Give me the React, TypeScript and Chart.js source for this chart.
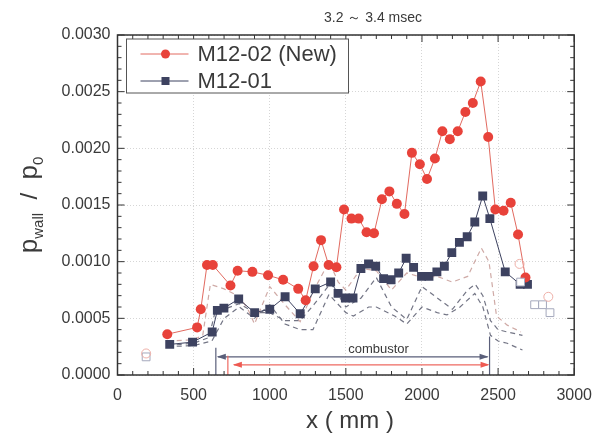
import React, { useEffect, useRef } from "react";
import { Chart, registerables } from "chart.js";

Chart.register(...registerables);

const FONT = "'Liberation Sans', Arial, sans-serif";

// M12-02 (New)
const newX = [327, 523, 547, 588, 626, 742, 789, 886, 989, 1088, 1187, 1236, 1288, 1337, 1387, 1438, 1488, 1537, 1584, 1636, 1685, 1737, 1786, 1835, 1885, 1934, 1986, 2033, 2085, 2134, 2183, 2235, 2285, 2334, 2386, 2435, 2482, 2536, 2583, 2631, 2680];
const newY = [0.00036, 0.00042, 0.00058, 0.00097, 0.00097, 0.00079, 0.00092, 0.00091, 0.00088, 0.00084, 0.00076, 0.00066, 0.00096, 0.00119, 0.00097, 0.00095, 0.00146, 0.00138, 0.00138, 0.00126, 0.00125, 0.00155, 0.00162, 0.00151, 0.00142, 0.00196, 0.00186, 0.00173, 0.00191, 0.00215, 0.00208, 0.00215, 0.00232, 0.0024, 0.00259, 0.0021, 0.00146, 0.00145, 0.00152, 0.00124, 0.00086];

// M12-01
const oldX = [343, 493, 622, 656, 699, 796, 901, 1000, 1101, 1200, 1299, 1400, 1449, 1497, 1547, 1599, 1649, 1696, 1748, 1797, 1847, 1896, 1945, 1997, 2046, 2098, 2147, 2196, 2246, 2297, 2347, 2399, 2446, 2547, 2645, 2693];
const oldY = [0.00027, 0.00029, 0.00038, 0.00057, 0.00059, 0.00067, 0.00055, 0.00058, 0.00069, 0.00054, 0.00076, 0.00082, 0.00072, 0.00068, 0.00068, 0.00094, 0.00098, 0.00096, 0.00085, 0.00084, 0.0009, 0.00103, 0.00095, 0.00087, 0.00087, 0.00091, 0.00096, 0.00108, 0.00117, 0.00122, 0.00135, 0.00158, 0.00138, 0.00091, 0.0008, 0.0008];

// dashed reference curves
const refAX = [330, 500, 560, 610, 700, 790, 850, 900, 1000, 1100, 1200, 1290, 1390, 1450, 1500, 1600, 1700, 1800, 1900, 2000, 2100, 2200, 2300, 2390, 2440, 2490, 2560, 2650];
const refAY = [0.0003, 0.00031, 0.00035, 0.0008, 0.00076, 0.0007, 0.0006, 0.00045, 0.00078, 0.00062, 0.00047, 0.00075, 0.001, 0.00082, 0.00075, 0.00094, 0.00092, 0.00075, 0.0009, 0.00086, 0.00087, 0.00082, 0.00087, 0.00112, 0.001, 0.00052, 0.00044, 0.00038];
const refBX = [330, 500, 600, 640, 700, 800, 900, 1000, 1100, 1200, 1290, 1400, 1500, 1600, 1700, 1800, 1900, 2000, 2100, 2200, 2300, 2350, 2400, 2450, 2500, 2560, 2660];
const refBY = [0.00026, 0.00028, 0.00033, 0.00055, 0.00058, 0.00063, 0.00055, 0.00055, 0.00048, 0.00048, 0.00062, 0.00081, 0.0006, 0.00068, 0.00086, 0.0006, 0.00049, 0.00078, 0.00068, 0.00058, 0.00075, 0.0008, 0.0007, 0.00048, 0.0004, 0.00038, 0.00035];
const refCX = [330, 500, 620, 700, 800, 900, 1000, 1100, 1200, 1284, 1389, 1500, 1550, 1650, 1700, 1821, 1900, 2000, 2100, 2164, 2250, 2347, 2400, 2450, 2500, 2560, 2660];
const refCY = [0.00025, 0.00026, 0.0003, 0.0005, 0.0006, 0.0005, 0.00062, 0.00045, 0.0004, 0.0004, 0.00071, 0.00055, 0.00052, 0.0006, 0.0006, 0.00052, 0.00045, 0.0006, 0.00055, 0.00053, 0.0006, 0.00072, 0.0006, 0.00035, 0.0003, 0.00028, 0.00022];

// open (other-run) markers
const openCircX = [188, 2641, 2830];
const openCircY = [0.00019, 0.00098, 0.00069];
const openSqX = [188, 2648, 2740, 2792, 2841];
const openSqY = [0.00016, 0.00082, 0.00062, 0.00062, 0.00055];

const xTickLabels = ["0", "500", "1000", "1500", "2000", "2500", "3000"];
const yTickLabels = ["0.0000", "0.0005", "0.0010", "0.0015", "0.0020", "0.0025", "0.0030"];

const legendLabels = ["M12-02 (New)", "M12-01"];
const titleText = "3.2 \uFF5E 3.4 msec";
const annotationText = "combustor";
const combustorBlue = [646, 2444];
const combustorRed = [725, 2444];

const RED = "#e8423a";
const RED_LINE = "#e26a60";
const BLUE = "#3d4260";
const TEXT = "#3a3a3a";

const pts = (xs: number[], ys: number[]) => xs.map((x, i) => ({ x, y: ys[i] }));

function arrowHead(ctx: CanvasRenderingContext2D, x: number, y: number, dir: number, color: string) {
  ctx.fillStyle = color;
  ctx.beginPath();
  ctx.moveTo(x, y);
  ctx.lineTo(x - dir * 9, y - 3);
  ctx.lineTo(x - dir * 9, y + 3);
  ctx.closePath();
  ctx.fill();
}

const decor = {
  id: "decor",
  beforeDraw(chart: any) {
    const ctx = chart.ctx;
    ctx.save();
    ctx.fillStyle = "#fff";
    ctx.fillRect(0, 0, chart.width, chart.height);
    ctx.restore();
  },
  afterDatasetsDraw(chart: any) {
    const ctx: CanvasRenderingContext2D = chart.ctx;
    const { left, right, top, bottom } = chart.chartArea;
    const xs = chart.scales.x;
    const ys = chart.scales.y;
    ctx.save();

    // combustor annotation
    const bx0 = xs.getPixelForValue(combustorBlue[0]);
    const bx1 = xs.getPixelForValue(combustorBlue[1]);
    const rx0 = xs.getPixelForValue(combustorRed[0]);
    const rx1 = xs.getPixelForValue(combustorRed[1]);
    const yb = ys.getPixelForValue(0.00016);
    const yr = ys.getPixelForValue(0.00009);
    ctx.lineWidth = 1.2;
    ctx.strokeStyle = "#5a5f7a";
    ctx.beginPath();
    ctx.moveTo(bx0, ys.getPixelForValue(0.00024));
    ctx.lineTo(bx0, bottom);
    ctx.moveTo(bx1, ys.getPixelForValue(0.00034));
    ctx.lineTo(bx1, bottom);
    ctx.moveTo(bx0 + 2, yb);
    ctx.lineTo(bx1 - 2, yb);
    ctx.stroke();
    arrowHead(ctx, bx0 + 1, yb, -1, "#5a5f7a");
    arrowHead(ctx, bx1 - 1, yb, 1, "#5a5f7a");
    ctx.strokeStyle = "#ee6a62";
    ctx.beginPath();
    ctx.moveTo(rx0, ys.getPixelForValue(0.00017));
    ctx.lineTo(rx0, bottom);
    ctx.moveTo(rx0 + 6, yr);
    ctx.lineTo(rx1 - 2, yr);
    ctx.stroke();
    arrowHead(ctx, rx0 + 5, yr, -1, "#ee5a52");
    arrowHead(ctx, rx1, yr, 1, "#ee5a52");
    ctx.fillStyle = TEXT;
    ctx.font = `13px ${FONT}`;
    ctx.textAlign = "center";
    ctx.textBaseline = "middle";
    ctx.fillText(annotationText, xs.getPixelForValue(1715), ys.getPixelForValue(0.00023));

    // frame
    ctx.strokeStyle = "#333";
    ctx.lineWidth = 1.5;
    ctx.strokeRect(left, top, right - left, bottom - top);

    // inward ticks, all sides
    ctx.lineWidth = 1;
    ctx.beginPath();
    for (let v = 0; v <= 3000; v += 100) {
      const p = xs.getPixelForValue(v);
      const len = v % 500 === 0 ? 7 : 4;
      ctx.moveTo(p, bottom);
      ctx.lineTo(p, bottom - len);
      ctx.moveTo(p, top);
      ctx.lineTo(p, top + len);
    }
    for (let i = 0; i <= 30; i++) {
      const p = ys.getPixelForValue(i * 0.0001);
      const len = i % 5 === 0 ? 7 : 4;
      ctx.moveTo(left, p);
      ctx.lineTo(left + len, p);
      ctx.moveTo(right, p);
      ctx.lineTo(right - len, p);
    }
    ctx.stroke();

    // legend
    const lx = left + 9, ly = top + 4, lw = 222, lh = 54;
    ctx.fillStyle = "#fff";
    ctx.fillRect(lx, ly, lw, lh);
    ctx.strokeStyle = "#555";
    ctx.lineWidth = 1;
    ctx.strokeRect(lx, ly, lw, lh);
    const rows = [ly + 15, ly + 42];
    ctx.lineWidth = 1;
    ctx.strokeStyle = RED_LINE;
    ctx.beginPath();
    ctx.moveTo(lx + 14, rows[0]);
    ctx.lineTo(lx + 62, rows[0]);
    ctx.stroke();
    ctx.fillStyle = RED;
    ctx.beginPath();
    ctx.arc(lx + 39, rows[0], 4.5, 0, Math.PI * 2);
    ctx.fill();
    ctx.strokeStyle = BLUE;
    ctx.beginPath();
    ctx.moveTo(lx + 14, rows[1]);
    ctx.lineTo(lx + 62, rows[1]);
    ctx.stroke();
    ctx.fillStyle = BLUE;
    ctx.fillRect(lx + 35, rows[1] - 4, 8, 8);
    ctx.fillStyle = TEXT;
    ctx.font = `22px ${FONT}`;
    ctx.textAlign = "left";
    ctx.textBaseline = "middle";
    ctx.fillText(legendLabels[0], lx + 71, rows[0] + 1);
    ctx.fillText(legendLabels[1], lx + 71, rows[1] + 1);

    // title
    ctx.font = `14px ${FONT}`;
    ctx.textAlign = "center";
    ctx.textBaseline = "middle";
    ctx.fillStyle = TEXT;
    ctx.fillText(titleText, 373, 18);

    // x axis title
    ctx.font = `24px ${FONT}`;
    ctx.fillText("x ( mm )", 350, 421);

    // y axis title with subscripts
    ctx.translate(33, 205);
    ctx.rotate(-Math.PI / 2);
    const parts: [string, number, number][] = [
      ["p", 26, 0],
      ["wall", 15, 6],
      ["  /  ", 24, 0],
      ["p", 26, 0],
      ["0", 15, 6],
    ];
    let total = 0;
    for (const [t, s] of parts) {
      ctx.font = `${s}px ${FONT}`;
      total += ctx.measureText(t).width;
    }
    let cx = -total / 2;
    ctx.textAlign = "left";
    ctx.textBaseline = "alphabetic";
    for (const [t, s, dy] of parts) {
      ctx.font = `${s}px ${FONT}`;
      ctx.fillText(t, cx, 4 + dy);
      cx += ctx.measureText(t).width;
    }
    ctx.restore();
  },
};

export default function App() {
  const ref = useRef<HTMLCanvasElement | null>(null);
  useEffect(() => {
    document.body.style.margin = "0";
    const canvas = ref.current;
    if (!canvas) return;
    const dashed = (xs: number[], ys: number[], color: string) => ({
      data: pts(xs, ys),
      showLine: true,
      borderColor: color,
      borderWidth: 1.2,
      borderDash: [5, 4],
      pointRadius: 0,
      order: 5,
    });
    const chart = new Chart(canvas, {
      type: "scatter",
      data: {
        datasets: [
          dashed(refAX, refAY, "#cfaaa6"),
          dashed(refBX, refBY, "#737585"),
          dashed(refCX, refCY, "#737585"),
          {
            data: pts(oldX, oldY),
            showLine: true,
            borderColor: BLUE,
            borderWidth: 1,
            pointStyle: "rect",
            pointRadius: 6.3,
            pointBackgroundColor: BLUE,
            pointBorderColor: BLUE,
            pointBorderWidth: 0,
            order: 3,
          },
          {
            data: pts(newX, newY),
            showLine: true,
            borderColor: RED_LINE,
            borderWidth: 1,
            pointStyle: "circle",
            pointRadius: 5,
            pointBackgroundColor: RED,
            pointBorderColor: RED,
            pointBorderWidth: 0,
            order: 2,
          },
          {
            data: pts(openSqX, openSqY),
            showLine: false,
            pointStyle: "rect",
            pointRadius: 5.5,
            pointBackgroundColor: "#fff",
            pointBorderColor: "#a4a8bc",
            pointBorderWidth: 1,
            order: 1,
          },
          {
            data: pts(openCircX, openCircY),
            showLine: false,
            pointStyle: "circle",
            pointRadius: 4.5,
            pointBackgroundColor: "rgba(255,255,255,0)",
            pointBorderColor: "#efb0a8",
            pointBorderWidth: 1,
            order: 0,
          },
        ] as any,
      },
      options: {
        responsive: false,
        animation: false,
        layout: { padding: { top: 35, right: 20, left: 0, bottom: 0 } },
        plugins: { legend: { display: false }, tooltip: { enabled: false } },
        scales: {
          x: {
            type: "linear",
            min: 0,
            max: 3000,
            ticks: {
              stepSize: 500,
              color: TEXT,
              padding: 11,
              font: { size: 16, family: FONT },
              callback: (_v: any, i: number) => xTickLabels[i] ?? "",
            },
            grid: { color: "#d6d6d6", drawTicks: false, lineWidth: 1 },
            border: { display: false, dash: [1, 2] },
            afterFit: (s: any) => {
              s.height = 64;
            },
          },
          y: {
            min: 0,
            max: 0.003,
            ticks: {
              stepSize: 0.0005,
              color: TEXT,
              padding: 7,
              font: { size: 16, family: FONT },
              callback: (_v: any, i: number) => yTickLabels[i] ?? "",
            },
            grid: { color: "#d6d6d6", drawTicks: false, lineWidth: 1 },
            border: { display: false, dash: [1, 2] },
            afterFit: (s: any) => {
              s.width = 117.5;
            },
          },
        },
      } as any,
      plugins: [decor],
    });
    return () => chart.destroy();
  }, []);
  return (
    <div style={{ width: 603, height: 439 }}>
      <canvas ref={ref} width={603} height={439} />
    </div>
  );
}
